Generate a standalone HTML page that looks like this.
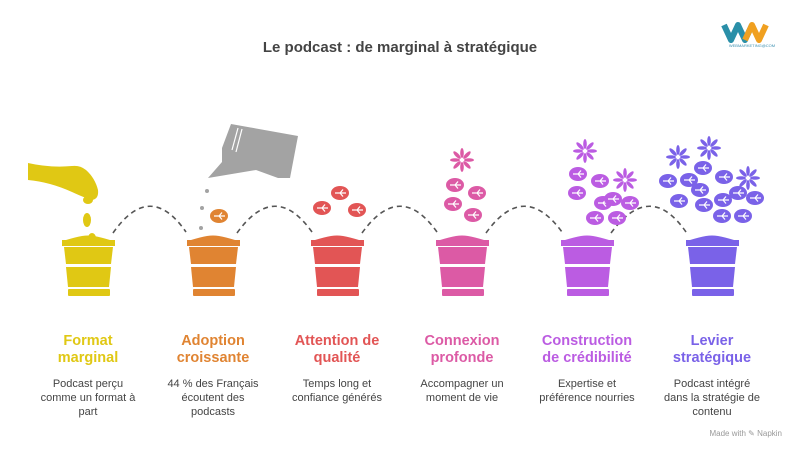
<!DOCTYPE html>
<html><head><meta charset="utf-8"><style>
body{margin:0;width:800px;height:453px;background:#fff;overflow:hidden;font-family:"Liberation Sans",sans-serif;position:relative}
.t{position:absolute;top:333px;width:120px;text-align:center;font-weight:bold;font-size:14.5px;line-height:17px}
.d{position:absolute;top:377px;width:120px;text-align:center;font-size:11px;line-height:14px;color:#444}
</style></head><body>
<svg width="800" height="453" style="position:absolute;left:0;top:0">
<defs>
<g id="pot">
<path d="M-22 240 Q-12 237 -6 236 Q0 235 6 236 Q12 237 22 240Z" fill="currentColor"/>
<rect x="-26" y="240" width="53" height="6" fill="currentColor"/>
<path d="M-24 247 L25 247 L23 264 L-22 264Z" fill="currentColor"/>
<path d="M-22 267 L23 267 L21 287 L-20 287Z" fill="currentColor"/>
<rect x="-20" y="289" width="42" height="7" rx="1" fill="currentColor"/>
</g>
<g id="leaf"><ellipse cx="0" cy="0" rx="9" ry="7" fill="currentColor"/><path d="M-5 0 L6 0 M0 0 L3 -3.5 M0 0 L3 3.5" stroke="#fff" stroke-width="1.2"/></g>
<g id="flower"><g fill="currentColor"><ellipse cx="0" cy="-7" rx="1.8" ry="5"/><ellipse cx="0" cy="7" rx="1.8" ry="5"/><ellipse cx="-7" cy="0" rx="5" ry="1.8"/><ellipse cx="7" cy="0" rx="5" ry="1.8"/><g transform="rotate(45)"><ellipse cx="0" cy="-7" rx="1.8" ry="5"/><ellipse cx="0" cy="7" rx="1.8" ry="5"/><ellipse cx="-7" cy="0" rx="5" ry="1.8"/><ellipse cx="7" cy="0" rx="5" ry="1.8"/></g></g></g>
</defs>
<text x="400" y="52" text-anchor="middle" font-size="15" font-weight="bold" fill="#444" font-family="Liberation Sans">Le podcast : de marginal à stratégique</text>
<g fill="none" stroke="#555" stroke-width="1.6" stroke-dasharray="5,4">
<path d="M113 233 Q150 180 186 232"/><path d="M237 233 Q275 180 312 232"/><path d="M362 233 Q400 180 437 232"/><path d="M486 233 Q524 180 562 232"/><path d="M611 233 Q650 180 686 232"/>
</g>
<use href="#pot" x="88" style="color:#e0c814"/>
<use href="#pot" x="213" style="color:#e08432"/>
<use href="#pot" x="337" style="color:#e25555"/>
<use href="#pot" x="462" style="color:#dc5aa5"/>
<use href="#pot" x="587" style="color:#bb5ce2"/>
<use href="#pot" x="712" style="color:#7a62e8"/>
<!-- hand -->
<path d="M28 163 L28 180 Q50 182 72 192 Q85 198 92 200 Q99 199 98 190 Q95 178 86 170 Q80 165 72 166 Q50 168 28 163Z" fill="#e0c814"/>
<ellipse cx="88" cy="200" rx="5" ry="4" fill="#e0c814"/>
<ellipse cx="87" cy="220" rx="4" ry="7" fill="#e0c814"/><ellipse cx="92" cy="238" rx="4" ry="5" fill="#e0c814"/>
<!-- watering can -->
<path d="M222 148 L231 124 L298 136 L290 178 L278 178 L256 170 L208 178 L222 162Z" fill="#a3a3a3"/>
<path d="M238 128 L232 150 M242 129 L236 152" stroke="#fff" stroke-width="1.2"/>
<circle cx="207" cy="191" r="2" fill="#a3a3a3"/><circle cx="202" cy="208" r="2" fill="#a3a3a3"/><circle cx="201" cy="228" r="2" fill="#a3a3a3"/>
<g style="color:#e08432"><use href="#leaf" x="219" y="216"/></g>
<g style="color:#e25555"><use href="#leaf" x="322" y="208"/><use href="#leaf" x="340" y="193"/><use href="#leaf" x="357" y="210"/></g>
<g style="color:#dc5aa5"><use href="#flower" x="462" y="160"/><use href="#leaf" x="455" y="185"/><use href="#leaf" x="477" y="193"/><use href="#leaf" x="453" y="204"/><use href="#leaf" x="473" y="215"/></g>
<g style="color:#bb5ce2"><use href="#flower" x="585" y="151"/><use href="#flower" x="625" y="180"/><use href="#leaf" x="578" y="174"/><use href="#leaf" x="600" y="181"/><use href="#leaf" x="577" y="193"/><use href="#leaf" x="603" y="203"/><use href="#leaf" x="613" y="199"/><use href="#leaf" x="630" y="203"/><use href="#leaf" x="595" y="218"/><use href="#leaf" x="617" y="218"/></g>
<g style="color:#7a62e8"><use href="#flower" x="678" y="157"/><use href="#flower" x="709" y="148"/><use href="#flower" x="748" y="178"/><use href="#leaf" x="668" y="181"/><use href="#leaf" x="689" y="180"/><use href="#leaf" x="703" y="168"/><use href="#leaf" x="724" y="177"/><use href="#leaf" x="700" y="190"/><use href="#leaf" x="679" y="201"/><use href="#leaf" x="704" y="205"/><use href="#leaf" x="723" y="200"/><use href="#leaf" x="738" y="193"/><use href="#leaf" x="755" y="198"/><use href="#leaf" x="722" y="216"/><use href="#leaf" x="743" y="216"/></g>
<!-- logo -->
<path d="M724 25 L731 40 L738 25 L745 40 L752 25" fill="none" stroke="#2a8fa8" stroke-width="6" stroke-linejoin="round"/>
<path d="M745 40 L752 25 L759 40 L766 25" fill="none" stroke="#f0a020" stroke-width="6" stroke-linejoin="round"/>
<text x="752" y="47" text-anchor="middle" font-size="4" fill="#3a8fb0">WEBMARKETING@COM</text>
<text x="782" y="436" text-anchor="end" font-size="8" fill="#999">Made with ✎ Napkin</text>
</svg>
<div class="t" style="left:28px;color:#e0c814">Format<br>marginal</div>
<div class="t" style="left:153px;color:#e08432">Adoption<br>croissante</div>
<div class="t" style="left:277px;color:#e25555">Attention de<br>qualité</div>
<div class="t" style="left:402px;color:#dc5aa5">Connexion<br>profonde</div>
<div class="t" style="left:522px;color:#bb5ce2;width:130px">Construction<br>de crédibilité</div>
<div class="t" style="left:652px;color:#7a62e8">Levier<br>stratégique</div>
<div class="d" style="left:28px">Podcast perçu<br>comme un format à<br>part</div>
<div class="d" style="left:153px">44 % des Français<br>écoutent des<br>podcasts</div>
<div class="d" style="left:277px">Temps long et<br>confiance générés</div>
<div class="d" style="left:402px">Accompagner un<br>moment de vie</div>
<div class="d" style="left:527px">Expertise et<br>préférence nourries</div>
<div class="d" style="left:652px">Podcast intégré<br>dans la stratégie de<br>contenu</div>
</body></html>
